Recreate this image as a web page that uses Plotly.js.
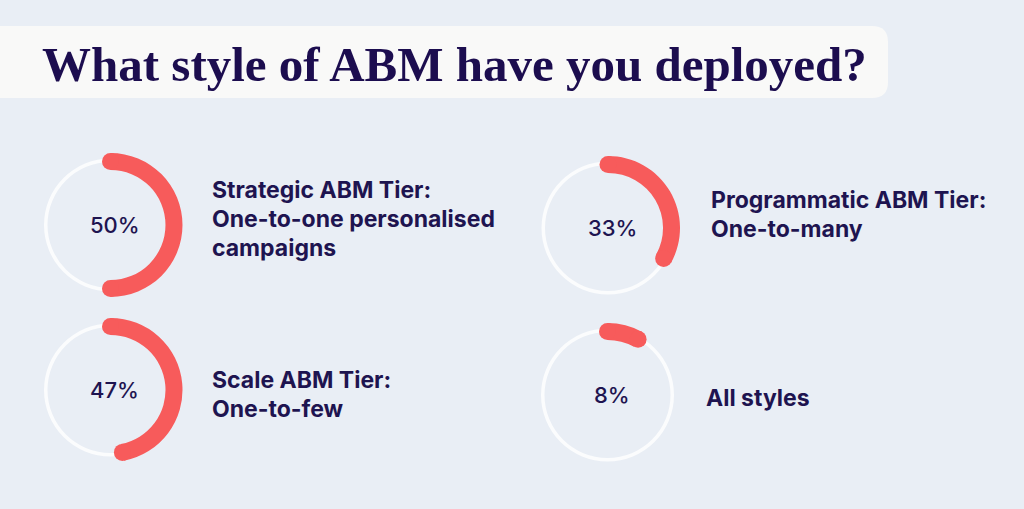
<!DOCTYPE html>
<html>
<head>
<meta charset="utf-8">
<script src="https://cdn.plot.ly/plotly-3.0.1.min.js"></script>
<style>
  html, body { margin: 0; padding: 0; background: #e9eef5; }
  #chart { width: 1024px; height: 509px; }
</style>
</head>
<body>
<div id="chart"></div>
<script>
// ---- data ----
const titleText = "What style of ABM have you deployed?";
const percents = [50, 33, 47, 8];
const percentLabels = ["50%", "33%", "47%", "8%"];
const tierLines = [
  ["Strategic ABM Tier:", "One-to-one personalised", "campaigns"],
  ["Programmatic ABM Tier:", "One-to-many"],
  ["Scale ABM Tier:", "One-to-few"],
  ["All styles"]
];

// ---- layout helpers (pixel geometry) ----
const W = 1024, H = 509;
const RANGE = 76;                 // radial range in px units
const panels = [
  {cx: 110.5, cy: 225, tx: 210, ty: 190},
  {cx: 608,   cy: 228, tx: 709, ty: 200},
  {cx: 110.5, cy: 390, tx: 210, ty: 380},
  {cx: 607.5, cy: 395, tx: 704, ty: 398}
];
const LINE_GAP = 29;
const RED = "#f75b5b";
const RING = "#fbfcfd";
const INK = "#1e1450";

const px = x => x / W;
const py = y => 1 - y / H;

const data = [];
const layout = {
  width: W, height: H,
  margin: {l: 0, r: 0, t: 0, b: 0},
  paper_bgcolor: "#e9eef5",
  plot_bgcolor: "rgba(0,0,0,0)",
  showlegend: false,
  shapes: [{
    type: "path", xref: "paper", yref: "paper",
    path: (() => {
      const x0 = px(-20), x1 = px(888), y0 = py(26), y1 = py(98);
      const rx = px(16) , ry = 16 / H;
      return `M ${x0},${y0} L ${x1 - rx},${y0} Q ${x1},${y0} ${x1},${y0 - ry} ` +
             `L ${x1},${y1 + ry} Q ${x1},${y1} ${x1 - rx},${y1} L ${x0},${y1} Z`;
    })(),
    fillcolor: "#f9f9f8", line: {width: 0}, layer: "below"
  }],
  annotations: [{
    text: titleText, xref: "paper", yref: "paper",
    x: px(40), y: py(64), xanchor: "left", yanchor: "middle", showarrow: false,
    font: {family: "Liberation Serif, DejaVu Serif, serif", size: 49, color: "#1c0d4f", weight: 700}
  }]
};

percents.forEach((v, i) => {
  const p = panels[i];
  const key = i === 0 ? "polar" : "polar" + (i + 1);
  const sub = key;
  const deg = v * 3.6;
  // thin white ring
  data.push({
    type: "barpolar", subplot: sub, r: [3.5], base: [63], theta: [180], width: [360],
    marker: {color: RING, line: {width: 0}}, hoverinfo: "skip"
  });
  // red arc
  data.push({
    type: "barpolar", subplot: sub, r: [17], base: [55], theta: [deg / 2], width: [deg],
    marker: {color: RED, line: {width: 0}}, hoverinfo: "skip"
  });
  // rounded caps
  data.push({
    type: "scatterpolar", subplot: sub, mode: "markers", r: [63.5, 63.5], theta: [0, deg],
    marker: {color: RED, size: 17, line: {width: 0}}, cliponaxis: false, hoverinfo: "skip"
  });
  layout[key] = {
    domain: {x: [px(p.cx - RANGE), px(p.cx + RANGE)], y: [py(p.cy + RANGE), py(p.cy - RANGE)]},
    bgcolor: "rgba(0,0,0,0)",
    radialaxis: {visible: false, range: [0, RANGE], showgrid: false},
    angularaxis: {visible: false, rotation: 90, direction: "clockwise", showgrid: false},
    bargap: 0
  };
  layout.annotations.push({
    text: percentLabels[i], xref: "paper", yref: "paper",
    x: px(p.cx + 4), y: py(p.cy), xanchor: "center", yanchor: "middle", showarrow: false,
    font: {family: "Inter, Roboto, sans-serif", size: 22, color: INK, weight: 500}
  });
  tierLines[i].forEach((line, j) => {
    layout.annotations.push({
      text: line, xref: "paper", yref: "paper",
      x: px(p.tx), y: py(p.ty + j * LINE_GAP), xanchor: "left", yanchor: "middle", showarrow: false,
      font: {family: "Inter, Roboto, sans-serif", size: 23, color: INK, weight: 700}
    });
  });
});

Plotly.newPlot("chart", data, layout, {staticPlot: true, displayModeBar: false});
</script>
</body>
</html>
